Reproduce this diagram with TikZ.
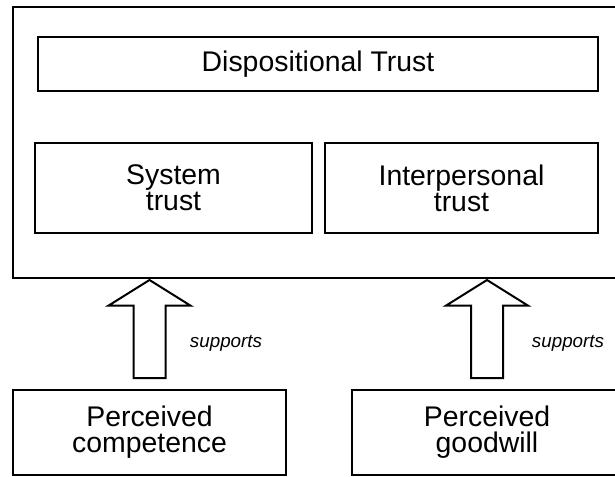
\documentclass[tikz,border=0pt]{standalone}
\usepackage{fontspec}
\setmainfont{Liberation Sans}
\usetikzlibrary{positioning,shapes.arrows,calc}

\begin{document}
\begin{tikzpicture}[x = .5pt, y = -.5pt,
  box/.style = {draw, line width=1.2pt, inner sep=0pt, align=center,
                font=\fontsize{14.2}{13}\selectfont},
  uparrow/.style = {single arrow, draw, line width=1pt, rotate=90,
                    inner xsep=0pt, inner ysep=7.5pt, minimum height=49pt,
                    single arrow head extend=12.5pt, single arrow tip angle=116},
  lbl/.style = {font=\fontsize{9.4}{11}\itshape, inner sep=0pt}]
\useasboundingbox (0,0) rectangle (615,476);
\clip (0,0) rectangle (615,476);
\node[box, minimum width=304.5pt, minimum height=135.5pt] (outer) at (317.5, 142.5) {};
\node[box, minimum width=280pt, minimum height=27pt] (disp) at (318, 64) {Dispositional Trust};
\node[box, minimum width=138.5pt, minimum height=45pt] (sys) at (173.5, 188) {System\\trust};
\node[box, minimum width=136.5pt, minimum height=45pt] (inter) at (461.5, 188) {Interpersonal\\trust};
\node[box, minimum width=136.5pt, minimum height=42.5pt] (comp) at (149.5, 432.5) {Perceived\\competence};
\node[box, minimum width=135pt, minimum height=42.5pt] (good) at (487, 432.5) {Perceived\\goodwill};
\node[uparrow] (up1) at ($(comp.north)!.5!(comp.north |- outer.south)$) {};
\node[uparrow] (up2) at ($(good.north)!.5!(good.north |- outer.south)$) {};
\node[lbl] (sup1) at (226, 343) {supports};
\node[lbl] (sup2) at (568, 343) {supports};

\end{tikzpicture}
\end{document}
